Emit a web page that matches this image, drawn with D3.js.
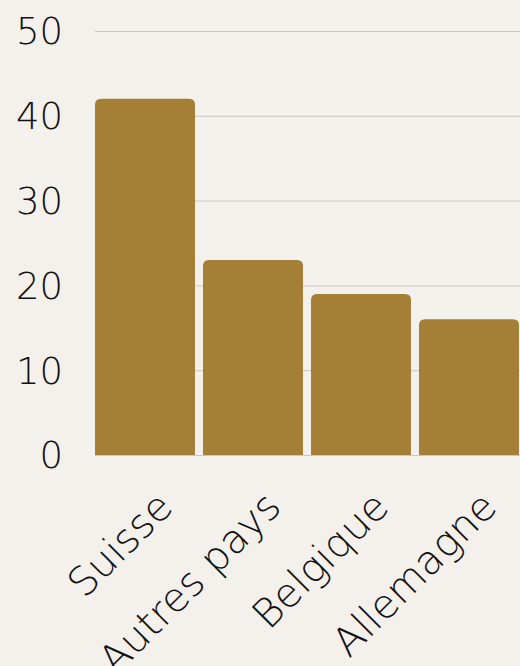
<!DOCTYPE html>
<html><head><meta charset="utf-8">
<script src="https://cdn.jsdelivr.net/npm/d3@7"></script>
<style>
html,body{margin:0;padding:0;background:#f4f0eb;}
svg{display:block;}
text{font-family:"DejaVu Sans", sans-serif;font-weight:200;fill:#111;}
</style></head>
<body><svg id="c" width="520" height="666"></svg>
<script>
const categories = ["Suisse","Autres pays","Belgique","Allemagne"];
const values = [42,23,19,16];
const yTicks = [0,10,20,30,40,50];

const svg = d3.select("#c");
const W = 520, H = 666;
const m = {left:95, right:1, top:31, bottom:211};
const x = d3.scaleBand().domain(categories).range([m.left, W-m.right]).paddingInner(8/108).paddingOuter(0);
const y = d3.scaleLinear().domain([0,50]).range([H-m.bottom, m.top]);

svg.append("rect").attr("width",W).attr("height",H).attr("fill","#f4f0eb");

// grid
svg.append("g").selectAll("line").data(yTicks).join("line")
  .attr("x1",m.left).attr("x2",W)
  .attr("y1",d=>y(d)+0.5).attr("y2",d=>y(d)+0.5)
  .attr("stroke","#cbc6be").attr("stroke-width",1);

// y labels
svg.append("g").selectAll("text").data(yTicks).join("text")
  .attr("x",63).attr("y",d=>y(d)).attr("dy","0.36em")
  .attr("text-anchor","end").attr("font-size",37)
  .text(d=>d);

// bars with rounded top
const r = 6;
svg.append("g").selectAll("path").data(values).join("path")
  .attr("fill","#a47f35")
  .attr("d",(d,i)=>{
    const x0 = x(categories[i]), w = x.bandwidth(), y0 = y(d), y1 = y(0);
    return `M${x0},${y1}V${y0+r}Q${x0},${y0} ${x0+r},${y0}H${x0+w-r}Q${x0+w},${y0} ${x0+w},${y0+r}V${y1}Z`;
  });

// x labels
svg.append("g").selectAll("text").data(categories).join("text")
  .attr("text-anchor","end").attr("font-size",40)
  .attr("transform",d=>`translate(${x(d)+x.bandwidth()/2+30},${y(0)+54}) rotate(-45)`)
  .text(d=>d);
</script></body></html>
